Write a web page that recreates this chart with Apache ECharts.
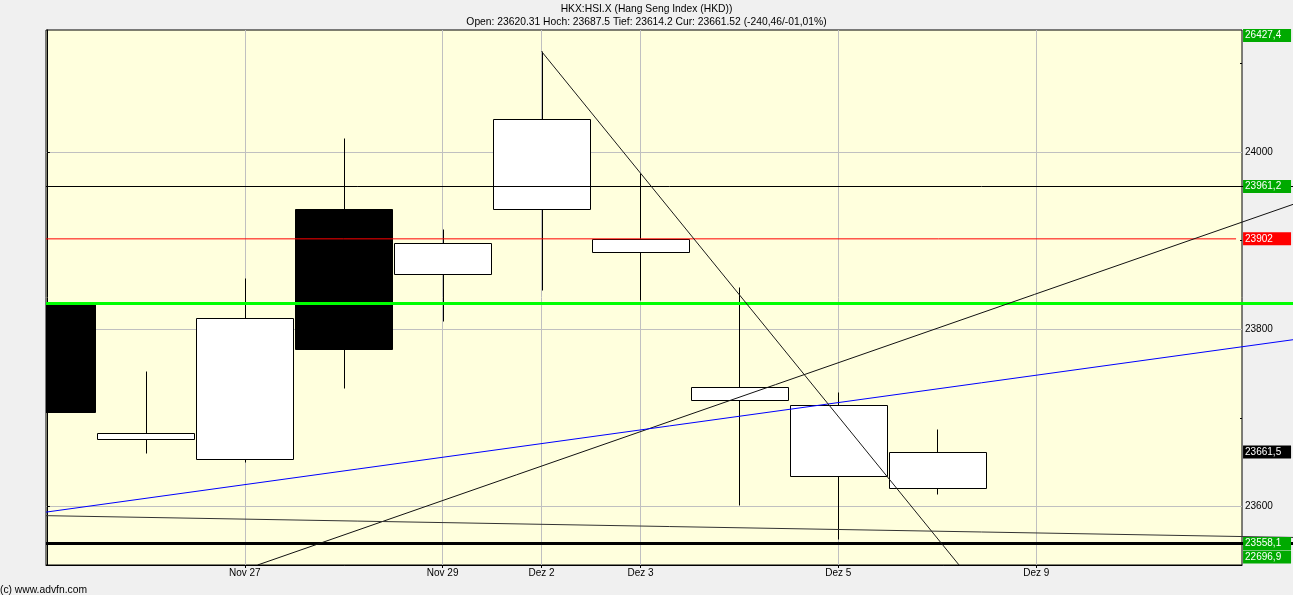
<!DOCTYPE html>
<html><head><meta charset="utf-8">
<script src="https://cdn.jsdelivr.net/npm/echarts@6/dist/echarts.min.js"></script>
<style>html,body{margin:0;padding:0;background:#f0f0f0}#c{width:1293px;height:595px}</style>
</head><body><div id="c"></div>
<script>
// ---- data ----
const dates = ['Nov 25','Nov 26','Nov 27','Nov 28','Nov 29','Dez 2','Dez 3','Dez 4','Dez 5','Dez 6','Dez 9','Dez 10','Dez 11'];
const labeledDays = [2, 4, 5, 6, 8, 10];
const opens  = [23829.3, 23675.6, 23653.0, 23935.4, 23862.8, 23936.2, 23887.6, 23719.6, 23633.8, 23620.31];
const closes = [23706.7, 23682.3, 23812.1, 23777.4, 23897.8, 24037.7, 23902.3, 23734.2, 23713.9, 23661.52];
const lows   = [23700.0, 23659.8, 23649.6, 23733.8, 23809.4, 23844.8, 23833.5, 23601.5, 23562.8, 23614.2];
const highs  = [23835.0, 23752.6, 23857.5, 24015.5, 23912.8, 24113.6, 23976.8, 23847.7, 23728.6, 23687.5];
const yTicks = [23600, 23800, 24000];
const yMinorTicks = [23700, 23900, 24100];
const yMin = 23533.8, yMax = 24137.8, xMin = -0.009, xMax = 12.08;
const hLevels = [23961.2, 23902, 23829.3, 23558.1];
const hLevelEnds = [12.6, 12.02, 12.6, 12.6];
const trendStarts = [[2.13, 23533.8], [-0.009, 23593.5], [5, 24113.6], [-0.009, 23589.5]];
const trendEnds   = [[12.6, 23941.1], [12.6, 23788.2], [9.22, 23533.8], [12.6, 23564.9]];
const tagValues = [26427.4, 23961.2, 23902, 23661.5, 23558.1, 22696.9];
const changeText = '(-240,46/-01,01%)';

// ---- styles ----
const FONT = 'Liberation Sans, Arial, sans-serif';
const BODY_FRACTION = 97 / 98.92;
const hLevelStyles = [
  {color:'#000000', width:1}, {color:'#ff0000', width:1},
  {color:'#00ff00', width:3}, {color:'#000000', width:3}
];
const trendStyles = [
  {color:'#111111', width:1}, {color:'#0000ff', width:1},
  {color:'#1a1a1a', width:1}, {color:'#333333', width:1}
];
const tagColors = ['#00aa00','#00aa00','#ff0000','#000000','#00aa00','#00aa00'];

function fmtTag(v){ return Number.isInteger(v) ? String(v) : v.toFixed(1).replace('.', ','); }
function clampTag(v){ return Math.min(Math.max(v, yMin + 9), yMax - 6.2); }

function renderCandle(params, api){
  const x = api.value(0), o = api.value(1), c = api.value(2), l = api.value(3), h = api.value(4);
  const pO = api.coord([x, o]), pC = api.coord([x, c]), pL = api.coord([x, l]), pH = api.coord([x, h]);
  const w = Math.round(api.size([1, 0])[0] * BODY_FRACTION);
  const cx = Math.round(pO[0]) + 0.5;
  const left = Math.round(pO[0] - w / 2) + 0.5;
  const top = Math.round(Math.min(pO[1], pC[1])) + 0.5;
  const bot = Math.round(Math.max(pO[1], pC[1])) + 0.5;
  const yH = Math.round(pH[1]) + 0.5, yL = Math.round(pL[1]) + 0.5;
  const up = c >= o;
  return {type:'group', children:[
    {type:'line', shape:{x1:cx, y1:yH, x2:cx, y2:top}, style:{stroke:'#000', lineWidth:1}},
    {type:'line', shape:{x1:cx, y1:bot, x2:cx, y2:yL}, style:{stroke:'#000', lineWidth:1}},
    {type:'rect', shape:{x:left, y:top, width:w, height:Math.max(bot - top, 1)},
      style:{fill: up ? '#ffffff' : '#000000', stroke:'#000', lineWidth:1}}
  ]};
}

function segSeries(seg, st, z){
  return {
    type:'custom', z:z, clip:false, silent:true,
    data:[seg], encode:{x:[0,2], y:[1,3]},
    itemStyle:{color:st.color},
    renderItem: function(params, api){
      const p0 = api.coord([api.value(0), api.value(1)]);
      const p1 = api.coord([api.value(2), api.value(3)]);
      const horiz = Math.abs(p0[1] - p1[1]) < 0.01;
      const off = (st.width % 2 === 1) ? 0.5 : 0;
      const y0 = horiz ? Math.round(p0[1]) + off : p0[1];
      const y1 = horiz ? Math.round(p1[1]) + off : p1[1];
      return {type:'line', shape:{x1:p0[0], y1:y0, x2:p1[0], y2:y1},
        style:{stroke:st.color, fill:null, lineWidth:st.width}};
    }
  };
}

const chart = echarts.init(document.getElementById('c'), null, {renderer:'canvas'});
const series = [];
series.push({
  type:'custom', z:3, clip:true, silent:true,
  renderItem: renderCandle,
  data: opens.map((o,i)=>[i, o, closes[i], lows[i], highs[i]]),
  encode:{x:0, y:[1,2,3,4]}
});
hLevels.forEach((v,i)=>{
  if (hLevelEnds[i] <= xMax) {
    series.push({type:'line', z:4, symbol:'none', silent:true,
      data:[[xMin, v],[hLevelEnds[i], v]],
      lineStyle:{color:hLevelStyles[i].color, width:hLevelStyles[i].width}});
  } else {
    series.push(segSeries([xMin, v, hLevelEnds[i], v], hLevelStyles[i], 4));
  }
});
trendStarts.forEach((s,i)=>{ series.push(segSeries([s[0], s[1], trendEnds[i][0], trendEnds[i][1]], trendStyles[i], 5)); });
series.push({
  type:'scatter', z:10, clip:false, symbolSize:0.1, silent:true,
  itemStyle:{color:'rgba(0,0,0,0)', opacity:1},
  data: tagValues.map((v,i)=>({value:[xMax, clampTag(v)], name:fmtTag(v),
    label:{backgroundColor:tagColors[i]}})),
  label:{show:true, position:'right', distance:1, formatter:p=>p.name, opacity:1,
    color:'#ffffff', fontSize:10, fontFamily:FONT, width:44, lineHeight:11,
    padding:[1,2,1,2], align:'left'}
});

chart.setOption({
  animation:false,
  backgroundColor:'#f0f0f0',
  title:[{
    text:'HKX:HSI.X (Hang Seng Index (HKD))',
    subtext:'Open: ' + opens[9] + ' Hoch: ' + highs[9] + ' Tief: ' + lows[9] + ' Cur: ' + closes[9] + ' ' + changeText,
    left:'center', top:4, padding:0, itemGap:3,
    textStyle:{fontSize:10.3, fontWeight:'normal', color:'#000', fontFamily:FONT},
    subtextStyle:{fontSize:10.3, color:'#000', fontFamily:FONT}
  },{
    text:'(c) www.advfn.com', left:0, top:585, padding:0,
    textStyle:{fontSize:10.3, fontWeight:'normal', color:'#000', fontFamily:FONT}
  }],
  grid:{left:46, right:51, top:30, bottom:30, show:true, backgroundColor:'#ffffdd', borderColor:'#000', borderWidth:1, containLabel:false},
  xAxis:{type:'value', min:xMin, max:xMax,
    axisLine:{show:true, onZero:false, lineStyle:{color:'#000', width:1}},
    axisTick:{show:true, customValues:labeledDays, length:3, lineStyle:{color:'#000'}},
    axisLabel:{customValues:labeledDays, formatter:v=>dates[Math.round(v)] || '', fontSize:10, color:'#000', fontFamily:FONT, margin:3},
    splitLine:{show:true, lineStyle:{color:'#c0c0c0', width:1}}
  },
  yAxis:[{type:'value', position:'right', min:yMin, max:yMax,
    axisLine:{show:true, lineStyle:{color:'#000', width:1}},
    axisTick:{show:true, customValues:yTicks, length:3, lineStyle:{color:'#000'}},
    axisLabel:{customValues:yTicks, formatter:v=>String(v), fontSize:10, color:'#000', fontFamily:FONT, margin:3},
    splitLine:{show:true, lineStyle:{color:'#c0c0c0', width:1}}
  },{type:'value', position:'right', min:yMin, max:yMax,
    axisLine:{show:false},
    axisTick:{show:true, inside:true, customValues:yMinorTicks, length:2, lineStyle:{color:'#000'}},
    axisLabel:{show:false}, splitLine:{show:false}
  }],
  series: series
});
</script></body></html>
